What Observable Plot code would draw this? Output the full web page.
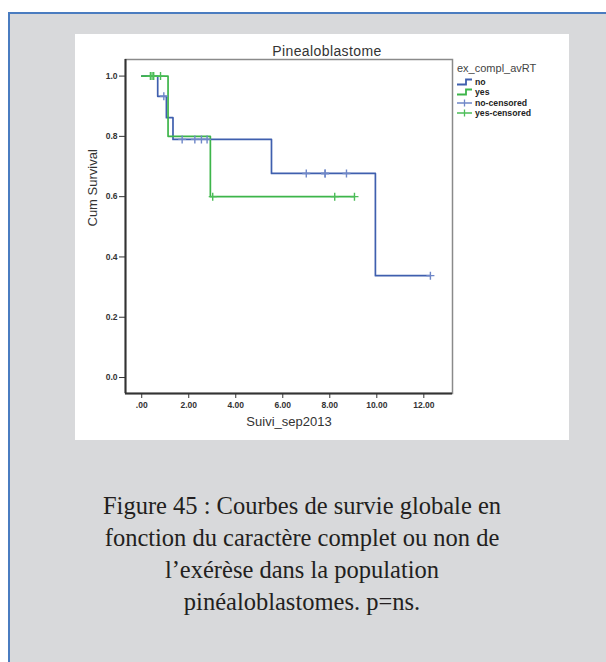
<!DOCTYPE html>
<html><head><meta charset="utf-8">
<script src="https://cdn.jsdelivr.net/npm/d3@7"></script>
<script src="https://cdn.jsdelivr.net/npm/@observablehq/plot@0.6"></script>
<style>
body{margin:0;background:#fff;width:606px;height:662px;position:relative;overflow:hidden;font-family:"Liberation Sans",Arial,sans-serif;}
#bg{position:absolute;left:8px;top:12px;width:598px;height:650px;background:#d8d9db;border-left:2px solid #4a7cc0;border-top:2px solid #4a7cc0;box-sizing:border-box;}
#panel{position:absolute;left:75px;top:34px;width:494px;height:406px;background:#fff;}
#panel svg{display:block;}
#title{position:absolute;left:0;width:494px;top:9px;text-align:center;font-size:14px;letter-spacing:0.4px;color:#333;font-weight:normal;padding-left:10px;box-sizing:border-box;}
#legend{position:absolute;left:382px;top:28px;color:#222;}
#legend .lt{font-size:11px;color:#444;margin-bottom:3px;}
#legend .it{display:flex;align-items:center;height:10.3px;font-size:8.7px;font-weight:bold;}
#legend svg{margin-right:2px;}
#caption{position:absolute;left:0;width:604px;top:490px;text-align:center;font-family:"Liberation Serif","Times New Roman",serif;font-size:24.5px;line-height:32px;color:#231f20;}
</style></head>
<body>
<div id="bg"></div>
<div id="panel"><div id="chart"></div><div id="title"></div><div id="legend"></div></div>
<div id="caption"></div>
<script>
// ---- data ----
const chartTitle = "Pinealoblastome";
const legendTitle = "ex_compl_avRT";
const xLabel = "Suivi_sep2013";
const yLabel = "Cum Survival";
const groups = ["no", "yes"];
const groupColors = ["#3f5fae", "#3db54a"];
const censorColors = ["#6f87c8", "#4cbd58"];
const noTimes = [0, 0.68, 1.05, 1.33, 5.52, 9.94, 12.28];
const noSurv = [1, 0.933, 0.862, 0.790, 0.677, 0.338, 0.338];
const yesTimes = [0, 1.12, 2.92, 9.05];
const yesSurv = [1, 0.8, 0.6, 0.6];
const noCensorTimes = [0.94, 1.72, 2.26, 2.54, 2.78, 7.0, 7.8, 7.8, 8.71, 12.28];
const noCensorSurv = [0.933, 0.790, 0.790, 0.790, 0.790, 0.677, 0.677, 0.677, 0.677, 0.338];
const yesCensorTimes = [0.37, 0.44, 0.51, 0.80, 3.02, 8.21, 9.05];
const yesCensorSurv = [1, 1, 1, 1, 0.6, 0.6, 0.6];
const xTicks = [0, 2, 4, 6, 8, 10, 12];
const yTicks = [0, 0.2, 0.4, 0.6, 0.8, 1.0];
const xDomain = [-0.69, 13.22];
const yDomain = [-0.053, 1.055];
const captionLines = [
  "Figure 45 : Courbes de survie globale en",
  "fonction du caractère complet ou non de",
  "l’exérèse dans la population",
  "pinéaloblastomes. p=ns."
];

// ---- build tables ----
const curves = [];
noTimes.forEach((t, i) => curves.push({g: "no", t, s: noSurv[i]}));
yesTimes.forEach((t, i) => curves.push({g: "yes", t, s: yesSurv[i]}));
const censors = [];
noCensorTimes.forEach((t, i) => censors.push({g: "no", t, s: noCensorSurv[i]}));
yesCensorTimes.forEach((t, i) => censors.push({g: "yes", t, s: yesCensorSurv[i]}));

const font = "Liberation Sans, Arial, sans-serif";
const chart = Plot.plot({
  width: 494, height: 406,
  marginLeft: 50, marginRight: 117, marginTop: 25, marginBottom: 47,
  style: {fontFamily: font, background: "transparent", overflow: "visible"},
  x: {domain: xDomain},
  y: {domain: yDomain},
  marks: [
    Plot.frame({stroke: "#8a8a8a", strokeWidth: 1.5}),
    Plot.ruleX([xDomain[0]], {stroke: "#333", strokeWidth: 2}),
    Plot.ruleY([yDomain[0]], {stroke: "#333", strokeWidth: 2}),
    Plot.axisX({ticks: xTicks, tickFormat: d => d === 0 ? ".00" : d.toFixed(2), tickSize: 5, tickPadding: 3, fontWeight: "bold", fontSize: 8.5, color: "#333", label: null}),
    Plot.axisY({ticks: yTicks, tickFormat: d => d.toFixed(1), tickSize: 6, tickPadding: 2, fontWeight: "bold", fontSize: 8.5, color: "#333", label: null}),
    Plot.text([xLabel], {frameAnchor: "bottom", dy: 28, fontSize: 13, fill: "#333", lineAnchor: "middle"}),
    Plot.text([yLabel], {frameAnchor: "left", dx: -33, rotate: -90, fontSize: 13, fill: "#333", lineAnchor: "middle"}),
    Plot.line(curves.filter(d => d.g === "no"), {x: "t", y: "s", curve: "step-after", stroke: groupColors[0], strokeWidth: 1.7}),
    Plot.line(curves.filter(d => d.g === "yes"), {x: "t", y: "s", curve: "step-after", stroke: groupColors[1], strokeWidth: 1.7}),
    Plot.dot(censors.filter(d => d.g === "no"), {x: "t", y: "s", symbol: "plus", r: 2.7, stroke: censorColors[0], strokeWidth: 1.4}),
    Plot.dot(censors.filter(d => d.g === "yes"), {x: "t", y: "s", symbol: "plus", r: 2.7, stroke: censorColors[1], strokeWidth: 1.4})
  ]
});
document.getElementById("chart").appendChild(chart);
document.getElementById("title").textContent = chartTitle;

// legend
const lg = document.getElementById("legend");
let html = `<div class="lt">${legendTitle}</div>`;
groups.forEach((g, i) => {
  html += `<div class="it"><svg width="16" height="8"><path d="M0,6.5H9V1.5H15" fill="none" stroke="${groupColors[i]}" stroke-width="1.8"/></svg>${g}</div>`;
});
groups.forEach((g, i) => {
  html += `<div class="it"><svg width="16" height="8"><path d="M0,4H15M7.5,0.5V7.5" fill="none" stroke="${censorColors[i]}" stroke-width="1.3"/></svg>${g}-censored</div>`;
});
lg.innerHTML = html;

document.getElementById("caption").innerHTML = captionLines.join("<br>");
</script>
</body></html>
